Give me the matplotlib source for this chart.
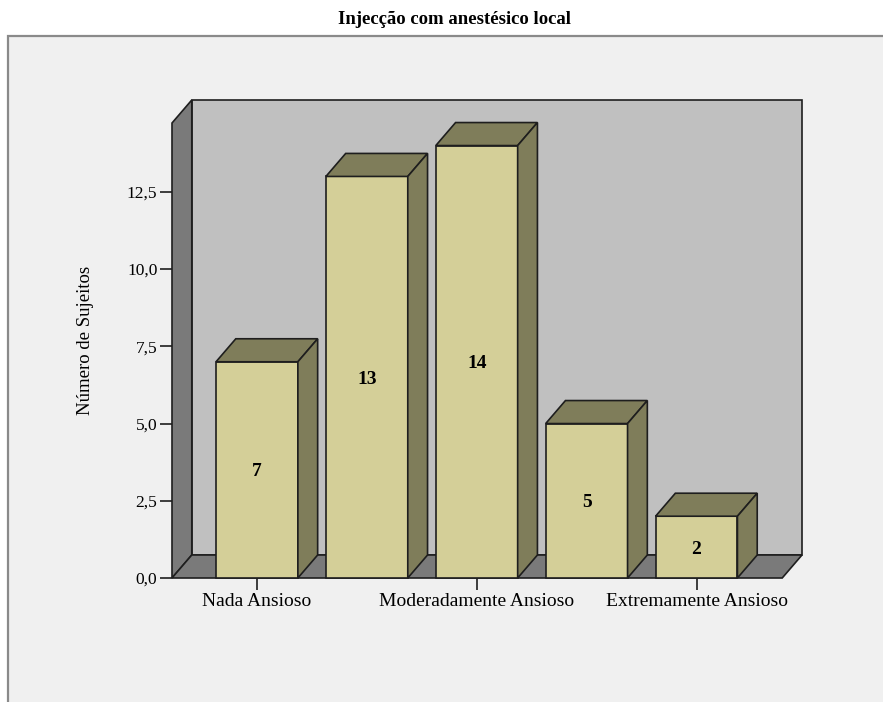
import matplotlib
matplotlib.use("Agg")
import matplotlib.pyplot as plt
from matplotlib.patches import Polygon, Rectangle

# dados do gráfico
titulo = "Injecção com anestésico local"
categorias = ["Nada Ansioso", "Pouco Ansioso", "Moderadamente Ansioso",
              "Muito Ansioso", "Extremamente Ansioso"]
contagens = [7, 13, 14, 5, 2]
marcas_y = [0, 2.5, 5, 7.5, 10, 12.5]
rotulo_y = "Número de Sujeitos"

# cores estilo SPSS
COR_FUNDO = "#f0f0f0"
COR_PAREDE = "#c0c0c0"
COR_LATERAL = "#7a7a7a"
COR_FRENTE = "#d4cf98"
COR_LADO = "#7f7d5a"
COR_LINHA = "#1e1e1e"
SERIF = ["Liberation Serif", "DejaVu Serif"]

W, H = 883, 702
fig = plt.figure(figsize=(W / 100, H / 100), dpi=100)
fig.patch.set_facecolor("white")

# moldura cinzenta
fig.patches.append(Rectangle((8 / W, -0.1), 1.2, (H - 36) / H + 0.1,
                             transform=fig.transFigure, facecolor=COR_FUNDO,
                             edgecolor="#8a8a8a", linewidth=1.6, zorder=-10))

fig.text(454 / W, (H - 20) / H, titulo, ha="center", va="center",
         fontsize=13.5, fontweight="bold", family=SERIF)

ax = fig.add_axes([172 / W, (H - 578) / H, 630 / W, 478 / H])
ax.set_facecolor("none")
for s in ax.spines.values():
    s.set_visible(False)

# profundidade 3D em unidades de dados
dx, dy = 0.18, 0.745
x0 = -0.773          # eixo frontal
x1 = 4.78            # canto direito frontal do chão
y_topo = 14.73       # topo frontal da parede esquerda
ax.set_xlim(x0, x1 + dx)
ax.set_ylim(0, y_topo + dy)

kw = dict(edgecolor=COR_LINHA, linewidth=1.2, clip_on=False, joinstyle="miter")
# parede do fundo
ax.add_patch(Polygon([(x0 + dx, dy), (x1 + dx, dy), (x1 + dx, y_topo + dy),
                      (x0 + dx, y_topo + dy)], facecolor=COR_PAREDE, **kw))
# parede esquerda
ax.add_patch(Polygon([(x0, 0), (x0 + dx, dy), (x0 + dx, y_topo + dy), (x0, y_topo)],
                     facecolor=COR_LATERAL, **kw))
# chão
ax.add_patch(Polygon([(x0, 0), (x0 + dx, dy), (x1 + dx, dy), (x1, 0)],
                     facecolor=COR_LATERAL, **kw))

largura = 0.745
for i, v in enumerate(contagens):
    a, b = i - largura / 2, i + largura / 2
    ax.add_patch(Polygon([(a, 0), (b, 0), (b, v), (a, v)], facecolor=COR_FRENTE, **kw))
    ax.add_patch(Polygon([(a, v), (b, v), (b + dx, v + dy), (a + dx, v + dy)],
                         facecolor=COR_LADO, **kw))
    ax.add_patch(Polygon([(b, 0), (b + dx, dy), (b + dx, v + dy), (b, v)],
                         facecolor=COR_LADO, **kw))
    ax.text(i, v / 2, str(v), ha="center", va="center_baseline", fontsize=14,
            fontweight="bold", family=SERIF, color="black")

ax.set_yticks(marcas_y)
ax.set_yticklabels([f"{m:.1f}".replace(".", ",") for m in marcas_y],
                   family=SERIF, fontsize=12.5)
ax.set_xticks(range(0, len(categorias), 2))
ax.set_xticklabels(categorias[::2], family=SERIF, fontsize=14)
ax.tick_params(axis="both", direction="out", length=8.5, width=1.2,
               color=COR_LINHA, pad=2)

ax.text(-0.137, 0.498, rotulo_y, transform=ax.transAxes, rotation=90,
        ha="center", va="center", fontsize=13.5, family=SERIF)

fig.savefig("out.png", dpi=100, facecolor=fig.get_facecolor())
